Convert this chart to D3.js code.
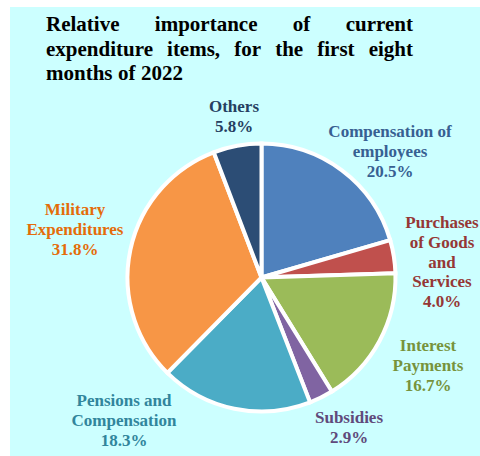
<!DOCTYPE html>
<html>
<head>
<meta charset="utf-8">
<script src="https://cdn.jsdelivr.net/npm/d3@7"></script>
<style>
  html, body { margin: 0; padding: 0; background: #ffffff; }
  svg { display: block; }
</style>
</head>
<body>
<svg id="chart" width="480" height="456"></svg>
<script>
// Current expenditure shares, first eight months of 2022 (clockwise from 12 o'clock)
const categories = [
  ["Compensation of", "employees"],
  ["Purchases", "of Goods", "and", "Services"],
  ["Interest", "Payments"],
  ["Subsidies"],
  ["Pensions and", "Compensation"],
  ["Military", "Expenditures"],
  ["Others"]
];
const shares = [20.5, 4.0, 16.7, 2.9, 18.3, 31.8, 5.8];
const sliceColors = ["#4F81BD", "#C0504D", "#9BBB59", "#8064A2", "#4BACC6", "#F79646", "#2C4D75"];
const labelColors = ["#376092", "#953735", "#77933C", "#604A7B", "#31859C", "#E46C0A", "#254061"];
// label anchor (centre x, first baseline y)
const labelPos = [[390, 137], [442, 228], [428, 351], [349, 423], [124, 406], [75, 215], [234, 112]];
const titleLines = [
  "Relative importance of current",
  "expenditure items, for the first eight",
  "months of 2022"
];

const FONT = "'Liberation Serif', 'Times New Roman', Times, 'DejaVu Serif', serif";
const svg = d3.select("#chart");

// panel background
svg.append("rect")
  .attr("x", 10).attr("y", 7)
  .attr("width", 470).attr("height", 449)
  .attr("fill", "#CCFFFF");

// title, justified between left and right margins except the last line
const tLeft = 46, tRight = 413, tTop = 31, tLine = 24.5;
titleLines.forEach((line, i) => {
  const words = line.split(" ");
  const y = tTop + i * tLine;
  const g = svg.append("g");
  const nodes = words.map(w => g.append("text")
    .attr("y", y)
    .attr("font-family", FONT)
    .attr("font-weight", "bold")
    .attr("font-size", 21)
    .attr("fill", "#000")
    .text(w));
  const widths = nodes.map(n => n.node().getComputedTextLength());
  const total = d3.sum(widths);
  const last = i === titleLines.length - 1;
  const gap = last ? 5.5 : (tRight - tLeft - total) / (words.length - 1);
  let x = tLeft;
  nodes.forEach((n, k) => { n.attr("x", x); x += widths[k] + gap; });
});

// pie
const cx = 261.5, cy = 277.5, r = 134;
const data = shares.map((v, i) => ({ v, i }));
const pie = d3.pie().value(d => d.v).sort(null);
const arc = d3.arc().innerRadius(0).outerRadius(r);

svg.append("g")
  .attr("transform", `translate(${cx},${cy})`)
  .selectAll("path")
  .data(pie(data))
  .join("path")
  .attr("d", arc)
  .attr("fill", d => sliceColors[d.data.i])
  .attr("stroke", "#ffffff")
  .attr("stroke-width", 4)
  .attr("stroke-linejoin", "miter");

// labels
const lh = 19.8;
data.forEach(d => {
  const lines = categories[d.i].concat([d3.format(".1f")(d.v) + "%"]);
  const [x, y0] = labelPos[d.i];
  const t = svg.append("text")
    .attr("text-anchor", "middle")
    .attr("font-family", FONT)
    .attr("font-weight", "bold")
    .attr("font-size", 17)
    .attr("fill", labelColors[d.i]);
  lines.forEach((s, k) => {
    t.append("tspan").attr("x", x).attr("y", y0 + k * lh).text(s);
  });
});
</script>
</body>
</html>
